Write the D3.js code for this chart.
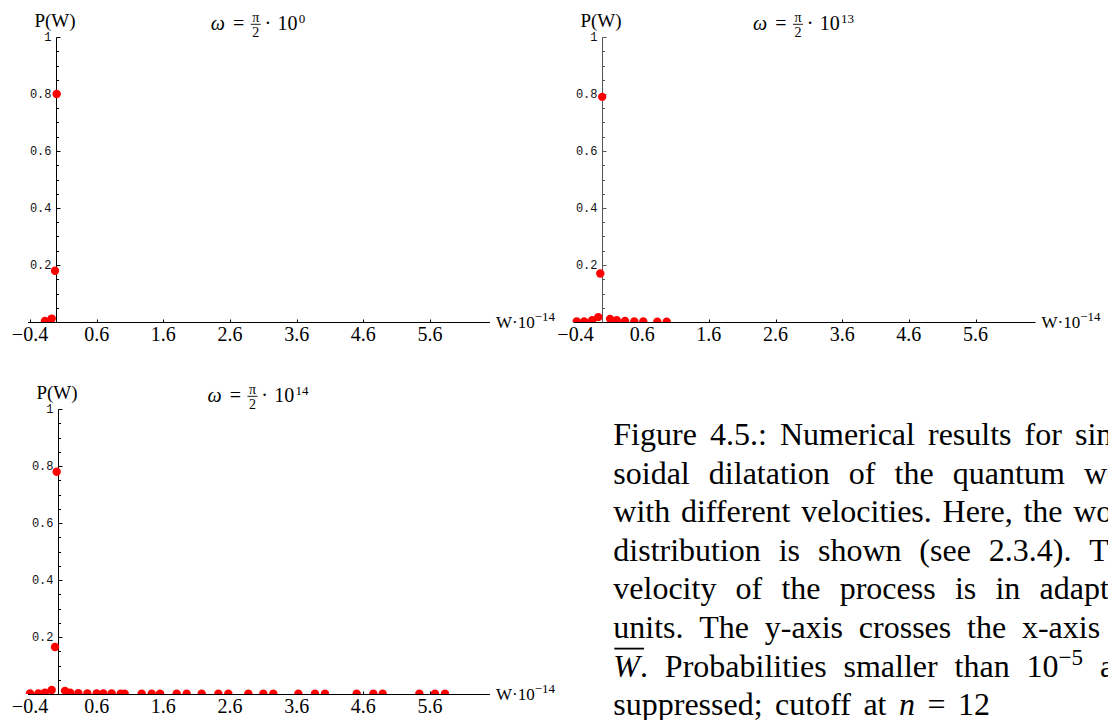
<!DOCTYPE html>
<html><head><meta charset="utf-8">
<script src="https://cdn.jsdelivr.net/npm/d3@7"></script>
<style>body{margin:0;background:#fff} svg{display:block}</style>
</head><body>
<svg id="chart" width="1108" height="720"></svg>
<script>
// ---------------- data ----------------
const omegaExponents = ["0", "13", "14"];
const meanW = [-0.01, 0.0, 0.02];           // where the y-axis crosses the x-axis
const xTickValues = [-0.4, 0.6, 1.6, 2.6, 3.6, 4.6, 5.6];
const xTickLabels = ["\u22120.4", "0.6", "1.6", "2.6", "3.6", "4.6", "5.6"];
const yTickValues = [0.2, 0.4, 0.6, 0.8, 1];
const yTickLabels = ["0.2", "0.4", "0.6", "0.8", "1"];

const w0 = [-0.175, -0.075, -0.025, 0.0];
const p0 = [0.0035, 0.012, 0.18, 0.80];

const w13 = [-0.382, -0.27, -0.15, -0.058, -0.028, 0.0, 0.118, 0.218, 0.343, 0.482, 0.617, 0.827, 0.968];
const p13 = [0.002, 0.002, 0.006, 0.017, 0.17, 0.79, 0.011, 0.006, 0.004, 0.002, 0.002, 0.001, 0.001];

const w14 = [-0.4, -0.275, -0.175, -0.075, -0.025, 0.0, 0.125, 0.2, 0.325, 0.46, 0.6, 0.7, 0.825, 0.96, 1.02,
             1.275, 1.425, 1.55, 1.8, 1.95, 2.175, 2.425, 2.575, 2.875, 3.1, 3.25, 3.625, 3.875, 4.025,
             4.5, 4.75, 4.89, 5.44, 5.675, 5.825];
const p14 = [0.002, 0.002, 0.005, 0.014, 0.165, 0.78, 0.011, 0.005, 0.003, 0.002, 0.002, 0.002, 0.002, 0.001, 0.001,
             0.001, 0.001, 0.001, 0.001, 0.001, 0.001, 0.001, 0.001, 0.001, 0.001, 0.001, 0.001, 0.001, 0.001,
             0.001, 0.001, 0.001, 0.001, 0.001, 0.001];

const captionText = [
  "Figure 4.5.: Numerical results for sinu-",
  "soidal dilatation of the quantum well",
  "with different velocities. Here, the work",
  "distribution is shown (see 2.3.4). The",
  "velocity of the process is in adapted",
  "units. The y-axis crosses the x-axis at",
  "$W. Probabilities smaller than 10^\u22125 are",
  "suppressed; cutoff at $n = 12"
];

// ---------------- layout ----------------
const SERIF = "'Liberation Serif', 'Times New Roman', serif";
const MONO = "'Liberation Mono', 'Courier New', monospace";
const layout = [
  {x0: 30, base: 322},
  {x0: 575.5, base: 322},
  {x0: 30, base: 694}
];
const panels = [
  {exp: omegaExponents[0], mean: meanW[0], w: w0, p: p0},
  {exp: omegaExponents[1], mean: meanW[1], w: w13, p: p13},
  {exp: omegaExponents[2], mean: meanW[2], w: w14, p: p14}
];

const svg = d3.select("#chart");
const defs = svg.append("defs");

function row(g, items) {
  let x = 0;
  items.forEach(it => {
    x += it.gap || 0;
    if (it.frac) {
      const n = g.append("text").attr("font-family", SERIF).attr("font-size", it.size)
        .attr("text-anchor", "middle").attr("y", -8.3).text(it.frac[0]);
      const d = g.append("text").attr("font-family", SERIF).attr("font-size", it.size)
        .attr("text-anchor", "middle").attr("y", 6.9).text(it.frac[1]);
      const w = Math.max(n.node().getComputedTextLength(), d.node().getComputedTextLength()) + 3;
      n.attr("x", x + w / 2); d.attr("x", x + w / 2);
      g.append("line").attr("x1", x).attr("x2", x + w).attr("y1", -5.7).attr("y2", -5.7)
        .attr("stroke", "#000").attr("stroke-width", 0.9);
      x += w;
    } else {
      const t = g.append("text").attr("x", x).attr("y", it.dy || 0)
        .attr("font-family", SERIF).attr("font-size", it.size)
        .attr("font-style", it.italic ? "italic" : null).text(it.t);
      x += t.node().getComputedTextLength();
    }
  });
  return x;
}

panels.forEach((d, i) => {
  const L = layout[i];
  const x = d3.scaleLinear().domain([-0.4, 5.6]).range([L.x0, L.x0 + 400]);
  const y = d3.scaleLinear().domain([0, 1]).range([L.base, L.base - 285]);
  const g = svg.append("g");
  const cid = "clip" + i;
  defs.append("clipPath").attr("id", cid).append("rect")
    .attr("x", x(-0.7)).attr("y", y(1.1))
    .attr("width", x(6.7) - x(-0.7)).attr("height", y(0) - y(1.1));

  const axY = Math.round(y(0)) + 0.5;
  const ax = Math.round(x(d.mean)) + 0.5;
  const axisColor = i === 1 ? "#555" : "#000";

  // x axis
  g.append("line").attr("x1", x(-0.43)).attr("x2", x(6.5)).attr("y1", axY).attr("y2", axY)
    .attr("stroke", "#000").attr("stroke-width", 1);
  g.selectAll(".xt").data(xTickValues).join("line")
    .attr("x1", v => Math.round(x(v)) + 0.5).attr("x2", v => Math.round(x(v)) + 0.5)
    .attr("y1", axY).attr("y2", axY - 3).attr("stroke", "#000");
  g.selectAll(".xl").data(xTickValues).join("text")
    .attr("x", v => x(v)).attr("y", axY + 18.5)
    .attr("text-anchor", "middle").attr("font-family", SERIF).attr("font-size", 20)
    .text((v, k) => xTickLabels[k]);

  // y axis
  g.append("line").attr("x1", ax).attr("x2", ax).attr("y1", axY).attr("y2", Math.round(y(1)) + 0.5)
    .attr("stroke", axisColor).attr("stroke-width", 1);
  const minor = d3.range(1, 21).map(k => k * 0.05).filter(v => Math.abs(v * 5 - Math.round(v * 5)) > 1e-6);
  g.selectAll(".ym").data(minor).join("line")
    .attr("x1", ax).attr("x2", ax + 2.5)
    .attr("y1", v => Math.round(y(v)) + 0.5).attr("y2", v => Math.round(y(v)) + 0.5)
    .attr("stroke", axisColor);
  g.selectAll(".yM").data(yTickValues).join("line")
    .attr("x1", ax).attr("x2", ax + 4)
    .attr("y1", v => Math.round(y(v)) + 0.5).attr("y2", v => Math.round(y(v)) + 0.5)
    .attr("stroke", axisColor);
  g.selectAll(".yl").data(yTickValues).join("text")
    .attr("x", ax - 5).attr("y", v => y(v)).attr("dy", "0.35em")
    .attr("text-anchor", "end").attr("font-family", MONO).attr("font-size", 12).attr("fill", "#111")
    .text((v, k) => yTickLabels[k]);

  // dots
  g.append("g").attr("clip-path", `url(#${cid})`)
    .selectAll("circle").data(d3.zip(d.w, d.p)).join("circle")
    .attr("cx", e => x(e[0])).attr("cy", e => y(e[1])).attr("r", 4.2).attr("fill", "#ff0000");

  // y label
  g.append("text").attr("x", ax - 1.5).attr("y", L.base - 295)
    .attr("text-anchor", "middle").attr("font-family", SERIF).attr("font-size", 19).text("P(W)");

  // x label
  const xl = g.append("text").attr("x", x(6.5) + 6).attr("y", axY + 5.5)
    .attr("font-family", SERIF).attr("font-size", 17);
  xl.append("tspan").text("W\u00B710");
  xl.append("tspan").attr("font-size", 13).attr("dy", -7).text("\u221214");

  // title
  const tg = g.append("g");
  const tw = row(tg, [
    {t: "\u03C9", size: 20, italic: true},
    {gap: 8, t: "=", size: 20},
    {gap: 6.5, frac: ["\u03C0", "2"], size: 14},
    {gap: 3.8, t: "\u00B7", size: 20},
    {gap: 6.2, t: "10", size: 20},
    {gap: 1.3, t: d.exp, size: 13, dy: -7}
  ]);
  tg.attr("transform", `translate(${x(3.02) - tw / 2},${L.base - 292})`);
});

// ---------------- caption ----------------
const cap = svg.append("g");
const capLeft = 613.3, capRight = 1139, capFirst = 445, capLead = 38.6, lastRight = 990;
captionText.forEach((line, li) => {
  const yb = capFirst + li * capLead;
  const words = line.split(" ");
  const nodes = words.map(word => {
    const t = cap.append("text").attr("y", yb).attr("font-family", SERIF).attr("font-size", 32);
    let over = null;
    if (word.startsWith("$")) {
      const rest = word.slice(1);
      const it = t.append("tspan").attr("font-style", "italic").text(rest[0]);
      if (rest.length > 1) t.append("tspan").text(rest.slice(1));
      if (rest[0] === "W") over = it;
    } else if (word.includes("^")) {
      const [b, s] = word.split("^");
      t.append("tspan").text(b);
      t.append("tspan").attr("font-size", 23).attr("dy", -11.6).text(s);
    } else {
      t.text(word);
    }
    return {t, over, w: t.node().getComputedTextLength()};
  });
  const right = li === captionText.length - 1 ? lastRight : capRight;
  const total = d3.sum(nodes, n => n.w);
  const sp = (right - capLeft - total) / (nodes.length - 1);
  let xx = capLeft;
  nodes.forEach(n => {
    n.t.attr("x", xx);
    if (n.over) {
      const ow = n.over.node().getComputedTextLength();
      cap.append("line").attr("x1", xx + 1).attr("x2", xx + ow + 4)
        .attr("y1", yb - 28).attr("y2", yb - 28).attr("stroke", "#000").attr("stroke-width", 1.8);
    }
    xx += n.w + sp;
  });
});
</script>
</body></html>
